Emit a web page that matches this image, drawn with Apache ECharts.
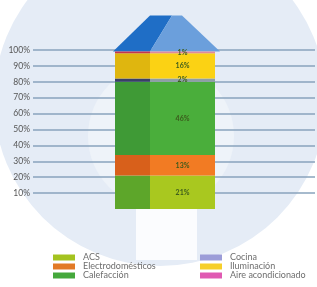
<!DOCTYPE html>
<html>
<head>
<meta charset="utf-8">
<script src="https://cdn.jsdelivr.net/npm/echarts@6/dist/echarts.min.js"></script>
<style>
  html, body { margin: 0; padding: 0; background: #ffffff; }
  #chart { width: 317px; height: 287px; }
</style>
</head>
<body>
<div id="chart"></div>
<script>
// datos del gráfico
var categories = ['Consumo'];
var seriesNames = ['ACS', 'Electrodomésticos', 'Calefacción', 'Cocina', 'Iluminación', 'Aire acondicionado'];
var values = [21, 13, 46, 2, 16, 1];
var yTicks = [10, 20, 30, 40, 50, 60, 70, 80, 90, 100];

// colores: cara izquierda (sombra), cara frontal, leyenda
var leftColors = ['#5da62a', '#d8601b', '#3f9a36', '#393f68', '#dfb60f', '#c4344f'];
var frontColors = ['#a9c81f', '#f27b23', '#4aae3b', '#8e9ea6', '#fbd214', '#e0899c'];
var legendColors = ['#a4c320', '#e27a26', '#45a83c', '#9c9dd8', '#f6cf2b', '#e05ab2'];

var myChart = echarts.init(document.getElementById('chart'));

var series = [];
seriesNames.forEach(function (name, i) {
    series.push({
        name: name,
        type: 'bar',
        stack: 'izq',
        barWidth: 35,
        xAxisIndex: 0,
        yAxisIndex: 0,
        data: [values[i]],
        itemStyle: { color: leftColors[i] },
        silent: true
    });
});
seriesNames.forEach(function (name, i) {
    series.push({
        name: name,
        type: 'bar',
        stack: 'der',
        barWidth: 65,
        barGap: '0%',
        xAxisIndex: 0,
        yAxisIndex: 0,
        data: [values[i]],
        itemStyle: { color: frontColors[i] },
        label: {
            show: true,
            position: 'inside',
            formatter: '{c}%',
            fontSize: 7,
            fontWeight: 'bold',
            color: '#3b5a1c',
            fontFamily: 'Lato'
        },
        silent: true
    });
});

function legendItems(from, to) {
    var out = [];
    for (var i = from; i < to; i++) {
        out.push({ name: seriesNames[i], itemStyle: { color: legendColors[i] } });
    }
    return out;
}

var legendBase = {
    orient: 'vertical',
    top: 253,
    itemWidth: 22,
    itemHeight: 6,
    itemGap: 0,
    icon: 'rect',
    selectedMode: false,
    textStyle: { fontSize: 9, lineHeight: 9, color: '#6e6e6e', fontFamily: 'Lato', padding: [0, 0, 0, 3] },
    padding: 0
};

var option = {
    animation: false,
    grid: [
        { left: 33, right: 20, top: 50, bottom: 78 },
        { left: 33, right: 2, top: 50, bottom: 78 }
    ],
    legend: [
        Object.assign({}, legendBase, { left: 53, data: legendItems(0, 3) }),
        Object.assign({}, legendBase, { left: 200, data: legendItems(3, 6) })
    ],
    xAxis: [
        { type: 'category', gridIndex: 0, data: categories, show: false },
        { type: 'value', gridIndex: 1, min: 0, max: 1, show: false }
    ],
    yAxis: [
        { type: 'value', gridIndex: 0, min: 0, max: 100, show: false },
        {
            type: 'value',
            gridIndex: 1,
            min: 0,
            max: yTicks[yTicks.length - 1],
            interval: yTicks[1] - yTicks[0],
            axisLine: { show: false },
            axisTick: { show: false },
            axisLabel: {
                showMinLabel: false,
                formatter: '{value}%',
                fontSize: 8.5,
                color: '#555',
                margin: 3,
                fontFamily: 'Lato'
            },
            splitLine: {
                showMinLine: false,
                lineStyle: { color: '#88a3bc', width: 1.5 }
            }
        }
    ],
    series: series
};

myChart.setOption(option);

// tejado y fondo, calculados desde la posición de la barra
var total = values.reduce(function (a, b) { return a + b; }, 0);
var cx = myChart.convertToPixel({ xAxisIndex: 0 }, categories[0]);
var by = myChart.convertToPixel({ yAxisIndex: 0 }, total);
var ty = by - 36;

myChart.setOption({
    graphic: [
        { type: 'circle', z: -10, silent: true, shape: { cx: 160, cy: 100, r: 166 }, style: { fill: '#e5ecf6' } },
        { type: 'circle', z: -9, silent: true, shape: { cx: 161, cy: 136, r: 73 }, style: { fill: '#eef3f9' } },
        { type: 'rect', z: -9, silent: true, shape: { x: 136, y: 200, width: 61, height: 60 }, style: { fill: '#fbfcfe' } },
        {
            type: 'polygon', z: 1, silent: true,
            shape: { points: [[cx - 52, by], [cx - 15, ty], [cx + 7, ty], [cx - 15, by]] },
            style: { fill: '#1f6ec6' }
        },
        {
            type: 'polygon', z: 1, silent: true,
            shape: { points: [[cx - 15, by], [cx + 7, ty], [cx + 17, ty], [cx + 55, by]] },
            style: { fill: '#6b9fdc' }
        }
    ]
});
</script>
</body>
</html>
